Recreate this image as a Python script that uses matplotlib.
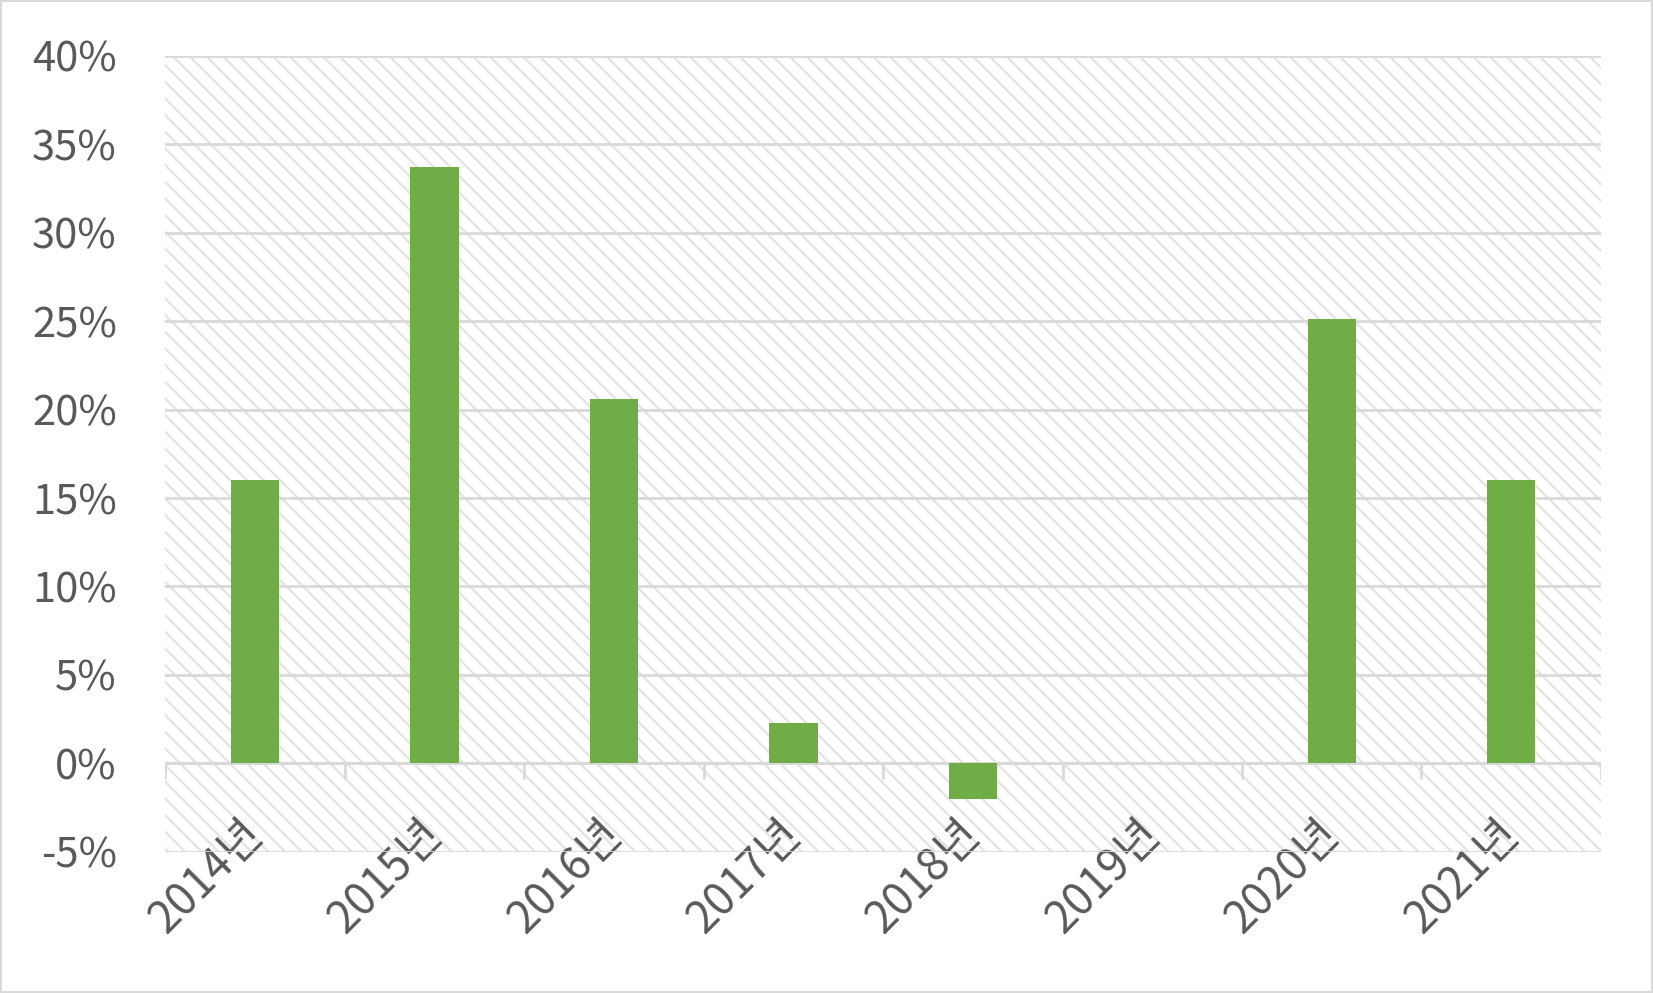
import numpy as np
import matplotlib.pyplot as plt
from matplotlib.patches import Rectangle
from matplotlib.ticker import FuncFormatter

plt.rcParams['font.family'] = ['Noto Sans CJK KR', 'DejaVu Sans']
plt.rcParams['hatch.linewidth'] = 1.6

years = ["2014년", "2015년", "2016년", "2017년", "2018년", "2019년", "2020년", "2021년"]
growth = [0.160, 0.337, 0.206, 0.023, -0.020, 0.0, 0.251, 0.160]
yticks = [-0.05, 0.0, 0.05, 0.10, 0.15, 0.20, 0.25, 0.30, 0.35, 0.40]

text_color = "#595959"
grid_color = "#d9d9d9"
bar_color = "#70ad47"

fig = plt.figure(figsize=(16.53, 9.93), dpi=100)
ax = fig.add_axes([0.1001, 0.1422, 0.8684, 0.8015])

# hatched plot area
bg = Rectangle((0, 0), 1, 1, transform=ax.transAxes, facecolor="white",
               edgecolor="#e3e3e3", linewidth=0, hatch="\\\\", zorder=0)
ax.add_patch(bg)
ax.patch.set_visible(False)

x = np.arange(len(years))
ax.bar(x, growth, width=0.27, color=bar_color, zorder=3)

ax.set_xlim(-0.5, len(years) - 0.5)
ax.set_ylim(yticks[0], yticks[-1])
ax.set_yticks(yticks)
ax.yaxis.set_major_formatter(FuncFormatter(lambda v, p: f"{v * 100:.0f}%"))
ax.grid(axis="y", color=grid_color, linewidth=2, zorder=1)
ax.set_axisbelow(True)

# zero axis line with category boundary ticks
ax.axhline(0, color=grid_color, linewidth=2, zorder=2)
ax.vlines(np.arange(len(years) + 1) - 0.5, -0.009, 0, color=grid_color, linewidth=2, zorder=2)

for s in ax.spines.values():
    s.set_visible(False)

ax.set_xticks(x)
ax.set_xticklabels(years, rotation=45, ha="right", va="center", rotation_mode="anchor")
ax.tick_params(axis="x", length=0, pad=-18, labelsize=32, labelcolor=text_color)
ax.tick_params(axis="y", length=0, pad=35, labelsize=30, labelcolor=text_color)

fig.patches.append(Rectangle((0, 0), 1, 1, transform=fig.transFigure, fill=False,
                             edgecolor=grid_color, linewidth=3))

fig.savefig("out.png", dpi=100)
